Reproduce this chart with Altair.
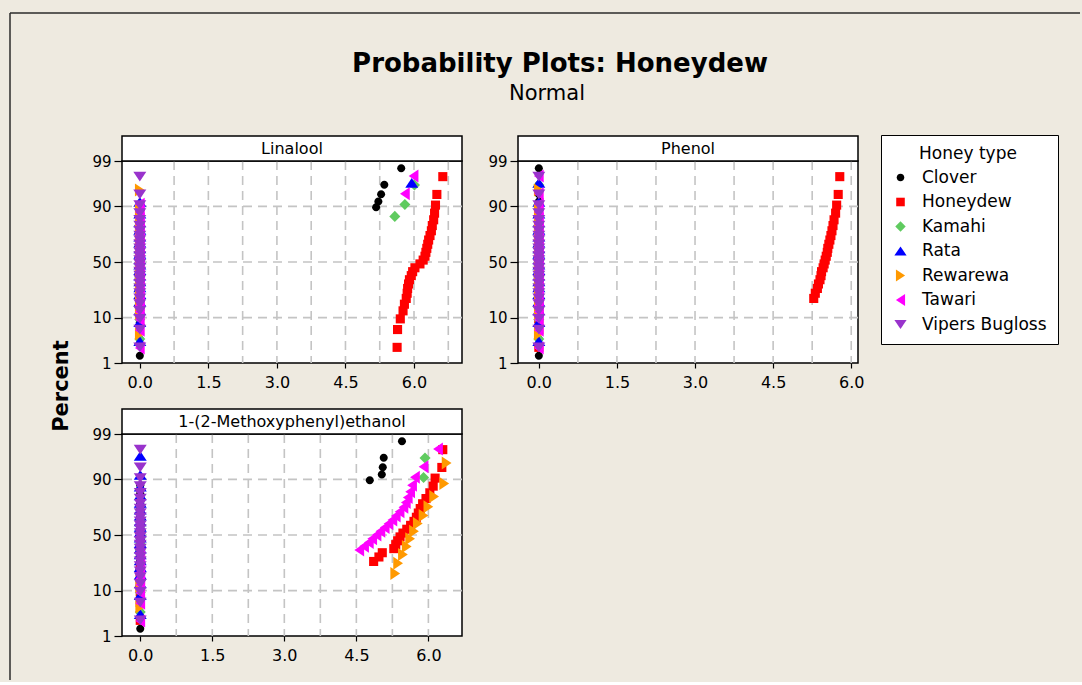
import altair as alt
import pandas as pd
from statistics import NormalDist

# Honey types, their plotting colours and marker outlines (unit-box SVG paths)
HONEY_TYPES = ["Clover", "Honeydew", "Kamahi", "Rata", "Rewarewa", "Tawari", "Vipers Bugloss"]
COLORS = ["#000000", "#FF0000", "#5FCB5F", "#0000FF", "#FF9900", "#FF00FF", "#9933CC"]
SHAPES = [
    "M0.62,0A0.62,0.62,0,1,1,-0.62,0A0.62,0.62,0,1,1,0.62,0Z",
    "M-0.7,-0.7L0.7,-0.7L0.7,0.7L-0.7,0.7Z",
    "M0,-0.85L0.85,0L0,0.85L-0.85,0Z",
    "M0,-0.75L1,0.75L-1,0.75Z",
    "M0.75,0L-0.75,-1L-0.75,1Z",
    "M-0.75,0L0.75,-1L0.75,1Z",
    "M0,0.75L1,-0.75L-1,-0.75Z",
]
# Samples per honey type (the same samples were measured for each compound)
SAMPLES = [45, 28, 18, 20, 14, 29, 28]

COMPOUNDS = ["Linalool", "Phenol", "1-(2-Methoxyphenyl)ethanol"]

# Non-zero concentrations; every other sample of a honey type measured 0
linalool_clover = [5.17, 5.22, 5.28, 5.35, 5.72]
linalool_honeydew = [5.63, 5.64, 5.70, 5.76, 5.79, 5.83, 5.85, 5.86, 5.88, 5.90,
                     5.94, 5.97, 6.02, 6.13, 6.20, 6.24, 6.26, 6.28, 6.30, 6.32,
                     6.35, 6.38, 6.40, 6.43, 6.45, 6.47, 6.50, 6.63]
linalool_kamahi = [5.58, 5.80, 6.01]
linalool_rata = [5.95]
linalool_tawari = [5.80, 5.99]

phenol_honeydew = [5.28, 5.31, 5.35, 5.37, 5.40, 5.42, 5.43, 5.46, 5.48, 5.50,
                   5.52, 5.54, 5.55, 5.57, 5.59, 5.61, 5.63, 5.65, 5.67, 5.70,
                   5.72, 5.75, 5.78]

methoxy_clover = [4.78, 5.03, 5.05, 5.07, 5.45]
methoxy_honeydew = [4.86, 4.97, 5.04, 5.28, 5.32, 5.36, 5.41, 5.47, 5.55, 5.63,
                    5.70, 5.75, 5.79, 5.83, 5.88, 5.95, 6.03, 6.10, 6.14, 6.28, 6.30]
methoxy_kamahi = [5.90, 5.93]
methoxy_rewarewa = [5.31, 5.37, 5.47, 5.55, 5.62, 5.70, 5.78, 5.90, 6.00, 6.12, 6.33, 6.38]
methoxy_tawari = [4.56, 4.66, 4.76, 4.83, 4.92, 5.00, 5.09, 5.17, 5.25, 5.32,
                  5.40, 5.48, 5.53, 5.57, 5.62, 5.66, 5.72, 5.90, 6.20]

NONZERO = {
    "Linalool": {"Clover": linalool_clover, "Honeydew": linalool_honeydew,
                 "Kamahi": linalool_kamahi, "Rata": linalool_rata, "Tawari": linalool_tawari},
    "Phenol": {"Honeydew": phenol_honeydew},
    "1-(2-Methoxyphenyl)ethanol": {"Clover": methoxy_clover, "Honeydew": methoxy_honeydew,
                                   "Kamahi": methoxy_kamahi, "Rewarewa": methoxy_rewarewa,
                                   "Tawari": methoxy_tawari},
}

# x-axis ranges of the three panels
X_DOMAINS = {"Linalool": [-0.39, 7.05], "Phenol": [-0.4, 6.13],
             "1-(2-Methoxyphenyl)ethanol": [-0.38, 6.7]}
X_TICKS = [0.0, 1.5, 3.0, 4.5, 6.0]
PCT_TICKS = [1, 10, 50, 90, 99]
PCT_GRID = [10, 50, 90]

rows = []
for compound in COMPOUNDS:
    for i, honey in enumerate(HONEY_TYPES):
        nz = NONZERO[compound].get(honey, [])
        for v in [0.0] * (SAMPLES[i] - len(nz)) + nz:
            rows.append({"compound": compound, "type": honey, "type_order": i, "value": v})
source = pd.DataFrame(rows)

nd = NormalDist()
Z_TICKS = [nd.inv_cdf(p / 100) for p in PCT_TICKS]
Z_LO, Z_HI = Z_TICKS[0], Z_TICKS[-1]

W, H, STRIP = 340, 202, 25
FONT = "DejaVu Sans"

legend = alt.Legend(
    title="\u200b\u00a0\u00a0\u00a0\u00a0\u00a0Honey type", orient="none", legendX=759, legendY=-26,
    strokeColor="black", fillColor="white", padding=11, cornerRadius=0,
    titleFont=FONT, titleFontSize=17, titleFontWeight="normal", titleColor="black",
    labelFont=FONT, labelFontSize=17, labelColor="black", labelOffset=13,
    symbolSize=150, symbolStrokeWidth=0, rowPadding=6.5, titlePadding=6,
)

X_AXIS = alt.Axis(values=X_TICKS, format=".1f", grid=False, domain=False,
                  tickSize=5, tickColor="black", tickWidth=1.2,
                  labelPadding=6, labelFontSize=16, labelFont=FONT, labelColor="black")
Y_AXIS = alt.Axis(values=Z_TICKS,
                  labelExpr="format(cumulativeNormal(datum.value) * 100, '.0f')",
                  grid=False, domain=False, tickSize=8, tickColor="black",
                  tickWidth=1.2, labelPadding=3, labelFontSize=15,
                  labelFont=FONT, labelColor="black")


def panel(name, decorations=()):
    xd = X_DOMAINS[name]
    xscale = alt.Scale(domain=xd, nice=False, zero=False)
    yscale = alt.Scale(domain=[Z_LO, Z_HI], nice=False, zero=False)

    grid_x = [0.75 * k for k in range(1, 12) if 0.75 * k < xd[1]]
    vgrid = alt.Chart(pd.DataFrame({"gx": grid_x})).mark_rule(
        color="#C4C4C4", strokeWidth=1.6, strokeDash=[9, 6]
    ).encode(x=alt.X("gx:Q", scale=xscale, axis=X_AXIS, title=None))
    hgrid = alt.Chart(pd.DataFrame({"gz": [nd.inv_cdf(p / 100) for p in PCT_GRID]})).mark_rule(
        color="#C4C4C4", strokeWidth=1.6, strokeDash=[9, 6]
    ).encode(y=alt.Y("gz:Q", scale=yscale, axis=Y_AXIS, title=None))

    pts = (
        alt.Chart(source)
        .transform_filter(alt.datum.compound == name)
        .transform_window(rank="row_number()", groupby=["type"], sort=[alt.SortField("value")])
        .transform_joinaggregate(n="count()", groupby=["type"])
        .transform_calculate(z="quantileNormal((datum.rank - 0.3) / (datum.n + 0.4))")
        .mark_point(filled=True, opacity=1, size=169)
        .encode(
            x=alt.X("value:Q", scale=xscale, title=None, axis=X_AXIS),
            y=alt.Y("z:Q", scale=yscale, title=None, axis=Y_AXIS),
            color=alt.Color("type:N", scale=alt.Scale(domain=HONEY_TYPES, range=COLORS),
                            legend=legend),
            shape=alt.Shape("type:N", scale=alt.Scale(domain=HONEY_TYPES, range=SHAPES),
                            legend=legend),
            order=alt.Order("type_order:Q"),
        )
    )

    strip_df = pd.DataFrame({"label": [name]})
    strip_box = alt.Chart(strip_df).mark_rect(fill="white", stroke="black", strokeWidth=1.5).encode(
        x=alt.value(0), x2=alt.value(W), y=alt.value(-STRIP), y2=alt.value(0)
    )
    strip_text = alt.Chart(strip_df).mark_text(
        font=FONT, fontSize=16, color="black", baseline="middle", align="center"
    ).encode(x=alt.value(W / 2), y=alt.value(-STRIP / 2), text="label:N")

    return alt.layer(vgrid, hgrid, pts, strip_box, strip_text, *decorations).properties(
        width=W, height=H
    )


# Figure furniture drawn alongside the first panel
frame_df = pd.DataFrame({"k": [0]})
frame_left = alt.Chart(frame_df).mark_rule(color="#2b2b2b", strokeWidth=1.5).encode(
    x=alt.value(-112), y=alt.value(-148), y2=alt.value(519)
)
frame_top = alt.Chart(frame_df).mark_rule(color="#2b2b2b", strokeWidth=1.5).encode(
    x=alt.value(-112), x2=alt.value(958), y=alt.value(-148)
)
main_title = alt.Chart(pd.DataFrame({"t": ["Probability Plots: Honeydew"]})).mark_text(
    font=FONT, fontSize=26, fontWeight="bold", color="black", baseline="middle", align="center"
).encode(x=alt.value(438), y=alt.value(-97), text="t:N")
sub_title = alt.Chart(pd.DataFrame({"t": ["Normal"]})).mark_text(
    font=FONT, fontSize=21, color="black", baseline="middle", align="center"
).encode(x=alt.value(425), y=alt.value(-67), text="t:N")
y_title = alt.Chart(pd.DataFrame({"t": ["Percent"]})).mark_text(
    font=FONT, fontSize=21, fontWeight="bold", color="black", baseline="middle",
    align="center", angle=270
).encode(x=alt.value(-60), y=alt.value(225), text="t:N")

p1 = panel("Linalool", (frame_left, frame_top, main_title, sub_title, y_title))
p2 = panel("Phenol")
p3 = panel("1-(2-Methoxyphenyl)ethanol")

chart = (
    alt.concat(p1, p2, p3, columns=2, spacing={"row": 71, "column": 56}, bounds="flush")
    .resolve_scale(x="independent", y="independent", color="shared", shape="shared")
    .configure(background="#EEEAE0", padding={"left": 8, "top": 11, "right": 0, "bottom": 0})
    .configure_view(stroke="black", strokeWidth=1.5, fill="white")
)

chart.save("out.html", embed_options={"renderer": "svg", "actions": False})
